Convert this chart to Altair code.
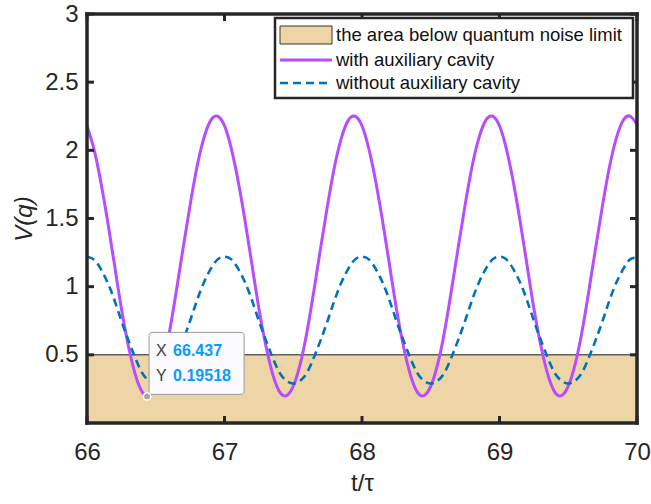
import altair as alt
import pandas as pd

# ---------------- data ----------------
t = [66.00, 66.05, 66.10, 66.15, 66.20, 66.25, 66.30, 66.35, 66.40, 66.45,
     66.50, 66.55, 66.60, 66.65, 66.70, 66.75, 66.80, 66.85, 66.90, 66.95,
     67.00, 67.05, 67.10, 67.15, 67.20, 67.25, 67.30, 67.35, 67.40, 67.45,
     67.50, 67.55, 67.60, 67.65, 67.70, 67.75, 67.80, 67.85, 67.90, 67.95,
     68.00, 68.05, 68.10, 68.15, 68.20, 68.25, 68.30, 68.35, 68.40, 68.45,
     68.50, 68.55, 68.60, 68.65, 68.70, 68.75, 68.80, 68.85, 68.90, 68.95,
     69.00, 69.05, 69.10, 69.15, 69.20, 69.25, 69.30, 69.35, 69.40, 69.45,
     69.50, 69.55, 69.60, 69.65, 69.70, 69.75, 69.80, 69.85, 69.90, 69.95,
     70.00]

with_aux = [2.18, 2.01, 1.77, 1.48, 1.16, 0.84, 0.57, 0.36, 0.23, 0.20,
            0.27, 0.43, 0.67, 0.97, 1.29, 1.60, 1.88, 2.09, 2.22, 2.25,
            2.18, 2.01, 1.77, 1.48, 1.16, 0.84, 0.57, 0.36, 0.23, 0.20,
            0.27, 0.43, 0.67, 0.97, 1.29, 1.60, 1.88, 2.09, 2.22, 2.25,
            2.18, 2.01, 1.77, 1.48, 1.16, 0.84, 0.57, 0.36, 0.23, 0.20,
            0.27, 0.43, 0.67, 0.97, 1.29, 1.60, 1.88, 2.09, 2.22, 2.25,
            2.18, 2.01, 1.77, 1.48, 1.16, 0.84, 0.57, 0.36, 0.23, 0.20,
            0.27, 0.43, 0.67, 0.97, 1.29, 1.60, 1.88, 2.09, 2.22, 2.25,
            2.19]

without_aux = [1.22, 1.20, 1.13, 1.03, 0.90, 0.75, 0.61, 0.48, 0.37, 0.31,
               0.29, 0.31, 0.37, 0.48, 0.61, 0.75, 0.90, 1.03, 1.13, 1.20,
               1.22, 1.20, 1.13, 1.03, 0.90, 0.75, 0.61, 0.48, 0.37, 0.31,
               0.29, 0.31, 0.37, 0.48, 0.61, 0.75, 0.90, 1.03, 1.13, 1.20,
               1.22, 1.20, 1.13, 1.03, 0.90, 0.75, 0.61, 0.48, 0.37, 0.31,
               0.29, 0.31, 0.37, 0.48, 0.61, 0.75, 0.90, 1.03, 1.13, 1.20,
               1.22, 1.20, 1.13, 1.03, 0.90, 0.75, 0.61, 0.48, 0.37, 0.31,
               0.29, 0.31, 0.37, 0.48, 0.61, 0.75, 0.90, 1.03, 1.13, 1.20,
               1.21]

noise_limit = 0.5
x_range = [66, 70]
y_range = [0, 3]
x_ticks = [66, 67, 68, 69, 70]
y_ticks = [0.5, 1, 1.5, 2, 2.5, 3]

tip_x = 66.437
tip_y = 0.19518

legend_labels = ["the area below quantum noise limit",
                 "with auxiliary cavity",
                 "without auxiliary cavity"]

# ---------------- styling ----------------
TOP = 14
W, H = 550, 409
FONT = "Liberation Sans"
AX = "#262626"
PURPLE = "#B84DFF"
BLUE = "#0072BD"
TAN = "#EDD5A6"

df = pd.DataFrame({"t": t, "v": with_aux, "w": without_aux})
area_df = pd.DataFrame({"t": x_range, "v": [noise_limit] * 2, "v0": [y_range[0]] * 2})
xt_df = pd.DataFrame({"t": x_ticks})
yt_df = pd.DataFrame({"v": y_ticks})
xf_df = pd.DataFrame({"t": x_range})
yf_df = pd.DataFrame({"v": y_range})
tip_df = pd.DataFrame({"t": [tip_x], "v": [tip_y],
                       "xs": [f"{tip_x:g}"], "ys": [f"{tip_y:g}"]})

xs = alt.Scale(domain=x_range, nice=False, zero=False)
ys = alt.Scale(domain=y_range, nice=False, zero=False)

x_axis = alt.Axis(values=x_ticks, format="d", title="t/τ", grid=False, domain=False,
                  tickSize=0, labelPadding=17, labelFontSize=24, labelFont=FONT,
                  labelColor=AX, titleFont=FONT, titleFontSize=24, titleFontWeight="normal",
                  titleColor=AX, titlePadding=7, labelFlush=False)
y_axis = alt.Axis(values=y_ticks, format="~g", title="V(q)", grid=False, domain=False,
                  tickSize=0, labelPadding=9, labelFontSize=24, labelFont=FONT,
                  labelColor=AX, titleFont=FONT, titleFontSize=24, titleFontWeight="normal",
                  titleFontStyle="italic", titleColor=AX, titlePadding=8)


def X(field="t"):
    return alt.X(f"{field}:Q", scale=xs, axis=x_axis, title="t/τ")


def Y(field="v"):
    return alt.Y(f"{field}:Q", scale=ys, axis=y_axis, title="V(q)")


area = alt.Chart(area_df).mark_area(color=TAN, opacity=1).encode(
    x=X(), y=Y(), y2="v0:Q")
area_edge = alt.Chart(area_df).mark_line(color="#1a1a1a", strokeWidth=1).encode(x=X(), y=Y())

line_with = alt.Chart(df).mark_line(color=PURPLE, strokeWidth=3, interpolate="natural").encode(
    x=X(), y=Y("v"))
line_without = alt.Chart(df).mark_line(color=BLUE, strokeWidth=2.6, strokeDash=[8, 5],
                                       interpolate="natural").encode(x=X(), y=Y("w"))

# inward ticks (bottom/top/left/right)
tk = dict(color=AX, strokeWidth=3)
xt_bot = alt.Chart(xt_df).mark_rule(**tk).encode(x=X(), y=alt.value(H), y2=alt.value(H - 7))
xt_top = alt.Chart(xt_df).mark_rule(**tk).encode(x=X(), y=alt.value(0), y2=alt.value(7))
yt_left = alt.Chart(yt_df).mark_rule(**tk).encode(y=Y(), x=alt.value(0), x2=alt.value(7))
yt_right = alt.Chart(yt_df).mark_rule(**tk).encode(y=Y(), x=alt.value(W), x2=alt.value(W - 7))

# frame
fr = dict(color=AX, strokeWidth=3.5, strokeCap="square")
frame_v = alt.Chart(xf_df).mark_rule(**fr).encode(x=X())
frame_h = alt.Chart(yf_df).mark_rule(**fr).encode(y=Y())

# data tip
tip_box = alt.Chart(tip_df).mark_rect(
    xOffset=2, x2Offset=97, yOffset=-64, y2Offset=-2, cornerRadius=3,
    fill="#FAFAFF", stroke="#9A9A9A", strokeWidth=1).encode(
    x=X(), x2="t:Q", y=Y(), y2="v:Q")
tip_pt = alt.Chart(tip_df).mark_point(filled=True, size=55, fill="#A6A6A6", stroke="white",
                                      strokeWidth=1.5, opacity=1).encode(x=X(), y=Y())
tip_common = dict(align="left", baseline="middle", font=FONT, fontSize=16)
tip_lx = alt.Chart(tip_df).mark_text(dx=9, dy=-45, color="#404040", **tip_common).encode(
    x=X(), y=Y(), text=alt.value("X"))
tip_ly = alt.Chart(tip_df).mark_text(dx=9, dy=-20, color="#404040", **tip_common).encode(
    x=X(), y=Y(), text=alt.value("Y"))
tip_vx = alt.Chart(tip_df).mark_text(dx=26, dy=-45, color="#0A9BFF", fontWeight="bold",
                                     **tip_common).encode(x=X(), y=Y(), text="xs:N")
tip_vy = alt.Chart(tip_df).mark_text(dx=26, dy=-20, color="#0A9BFF", fontWeight="bold",
                                     **tip_common).encode(x=X(), y=Y(), text="ys:N")

# legend (pixel positions inside the plot area)
LX0, LY0, LX1, LY1 = 188, 4, 546, 84
rows = [21, 46, 69]
leg_df = pd.DataFrame({"label": legend_labels})
leg_box = alt.Chart(leg_df.head(1)).mark_rect(fill="white", stroke=AX, strokeWidth=2.5).encode(
    x=alt.value(LX0), x2=alt.value(LX1), y=alt.value(LY0), y2=alt.value(LY1))
leg_sw = alt.Chart(leg_df.head(1)).mark_rect(fill=TAN, stroke="#333333", strokeWidth=1).encode(
    x=alt.value(LX0 + 5), x2=alt.value(LX0 + 57), y=alt.value(rows[0] - 9), y2=alt.value(rows[0] + 9))
leg_l1 = alt.Chart(leg_df.head(1)).mark_rule(color=PURPLE, strokeWidth=3).encode(
    x=alt.value(LX0 + 5), x2=alt.value(LX0 + 57), y=alt.value(rows[1]))
leg_l2 = alt.Chart(leg_df.head(1)).mark_rule(color=BLUE, strokeWidth=2.6, strokeDash=[8, 5]).encode(
    x=alt.value(LX0 + 5), x2=alt.value(LX0 + 57), y=alt.value(rows[2]))
leg_texts = []
for i, lab in enumerate(legend_labels):
    leg_texts.append(
        alt.Chart(leg_df.iloc[[i]]).mark_text(align="left", baseline="middle", font=FONT,
                                             fontSize=18.5, color="#111111").encode(
            x=alt.value(LX0 + 61), y=alt.value(rows[i]), text="label:N"))

chart = alt.layer(
    area, area_edge, line_with, line_without,
    xt_bot, xt_top, yt_left, yt_right, frame_v, frame_h,
    tip_box, tip_pt, tip_lx, tip_ly, tip_vx, tip_vy,
    leg_box, leg_sw, leg_l1, leg_l2, *leg_texts,
).properties(
    width=W, height=H,
    padding={"left": 87, "top": TOP, "right": 14, "bottom": 504 - TOP - H},
    autosize=alt.AutoSizeParams(type="none"),
    background="white",
).configure_view(stroke="transparent")

chart.save("out.html", embed_options={"renderer": "svg", "actions": False})
